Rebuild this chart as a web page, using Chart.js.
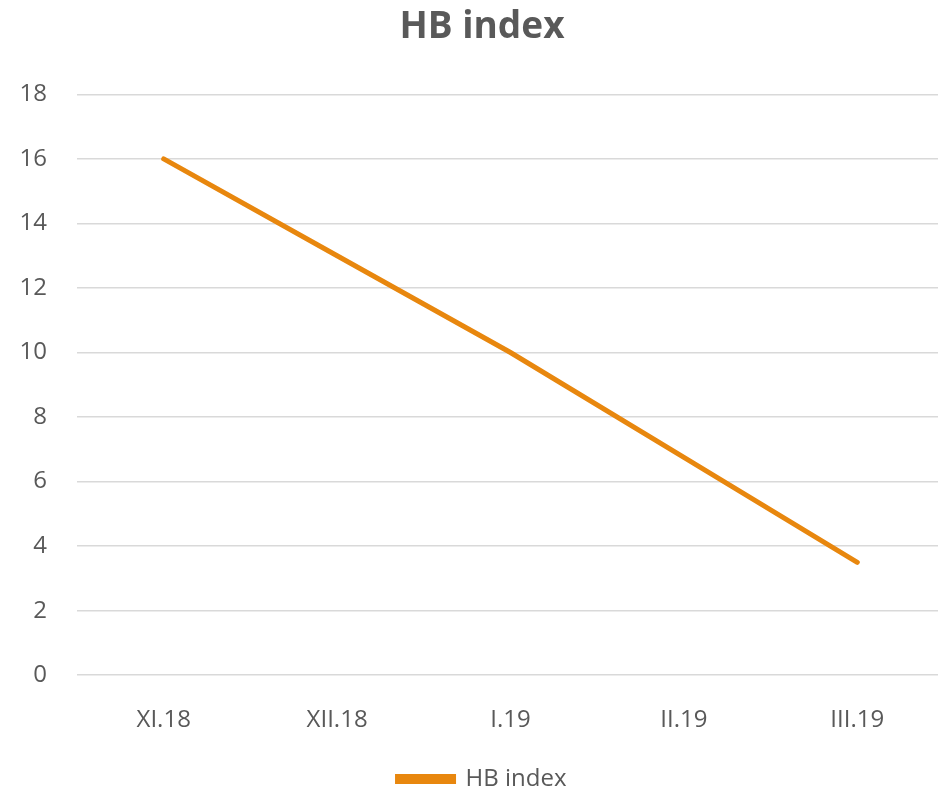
<!DOCTYPE html>
<html>
<head>
<meta charset="utf-8">
<script src="https://cdn.jsdelivr.net/npm/chart.js@4"></script>
<style>
  html, body { margin: 0; padding: 0; overflow: hidden; background: #fff; }
  #wrap { width: 975px; height: 794px; }
</style>
</head>
<body>
<div id="wrap"><canvas id="hbChart"></canvas></div>
<script>
var months = ["XI.18", "XII.18", "I.19", "II.19", "III.19"];
var hbValues = [16, 13, 10, 6.75, 3.5];
var yTicks = [0, 2, 4, 6, 8, 10, 12, 14, 16, 18];

var ctx = document.getElementById("hbChart");

new Chart(ctx, {
  type: "line",
  data: {
    labels: months,
    datasets: [
      {
        label: "HB index",
        data: hbValues,
        borderColor: "#E8870E",
        backgroundColor: "#E8870E",
        borderWidth: 5,
        pointRadius: 0,
        tension: 0,
        borderCapStyle: "round"
      }
    ]
  },
  options: {
    responsive: true,
    maintainAspectRatio: false,
    animation: false,
    layout: {
      padding: { left: 20, right: 31, top: 5, bottom: -7 }
    },
    plugins: {
      title: {
        display: true,
        text: "HB index",
        color: "#595959",
        font: { family: "Open Sans", size: 37, weight: "bold" },
        padding: { top: 0, bottom: 45 }
      },
      legend: {
        display: true,
        position: "bottom",
        labels: {
          color: "#595959",
          font: { family: "Open Sans", size: 24 },
          boxWidth: 56,
          boxHeight: 5,
          padding: 1
        }
      },
      tooltip: { enabled: false }
    },
    scales: {
      x: {
        offset: true,
        grid: { display: false, drawTicks: false },
        border: { display: false },
        ticks: {
          color: "#595959",
          font: { family: "Open Sans", size: 24 },
          padding: 31
        }
      },
      y: {
        min: 0,
        max: 18,
        afterBuildTicks: function (axis) {
          axis.ticks = yTicks.map(function (v) { return { value: v }; });
        },
        afterFit: function (axis) {
          axis.width = 57;
        },
        grid: { color: "#d9d9d9", lineWidth: 1.5, drawTicks: false },
        border: { display: false },
        ticks: {
          color: "#595959",
          font: { family: "Open Sans", size: 24 },
          padding: 30
        }
      }
    }
  }
});
</script>
</body>
</html>
